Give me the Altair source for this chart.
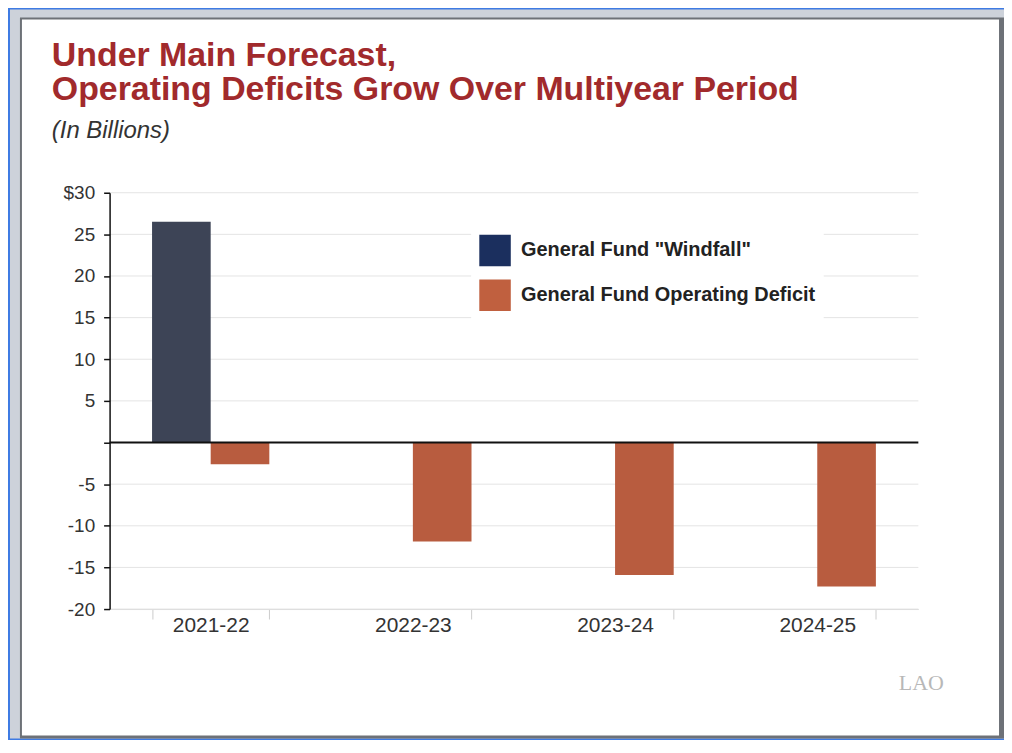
import altair as alt
import pandas as pd

years = ["2021-22", "2022-23", "2023-24", "2024-25"]
windfall = [26.5, None, None, None]
deficit = [-2.6, -11.9, -15.9, -17.3]
series = ['General Fund "Windfall"', "General Fund Operating Deficit"]
bar_colors = ["#3d4456", "#b85c3f"]
legend_colors = ["#1b2f5e", "#c0603f"]
y_ticks = [-20, -15, -10, -5, 0, 5, 10, 15, 20, 25, 30]
grid_vals = [v for v in y_ticks if v != 0]

rows = []
for i, yr in enumerate(years):
    if windfall[i] is not None:
        rows.append({"year": yr, "series": series[0], "value": windfall[i]})
    if deficit[i] is not None:
        rows.append({"year": yr, "series": series[1], "value": deficit[i]})
df = pd.DataFrame(rows)
grid_df = pd.DataFrame({"v": grid_vals})
zero_df = pd.DataFrame({"v": [0]})

W, H = 812, 418
FONT = "Liberation Sans"

yscale = alt.Scale(domain=[-20, 30], nice=False, zero=False)
yaxis = alt.Axis(
    title=None, values=y_ticks, grid=False, zindex=1,
    domainColor="#111111", domainWidth=1.5, tickColor="#111111", tickWidth=1.5,
    tickSize=6, labelPadding=9, labelFont=FONT, labelFontSize=19, labelColor="#333333",
    labelExpr="datum.value == 30 ? '$30' : (datum.value == 0 ? '' : toString(datum.value))",
)
xscale = alt.Scale(domain=years, paddingInner=0.42, paddingOuter=0.21)
xaxis = alt.Axis(
    title=None, labelAngle=0, zindex=1, domain=True, domainColor="#dddddd",
    tickColor="#cccccc", tickSize=10, tickBand="extent",
    labelFont=FONT, labelFontSize=21, labelColor="#333333", labelPadding=-4,
)

one = alt.Data(values=[{}])

bg_gray = alt.Chart(one).mark_rect(color="#cdd2da").encode(
    x=alt.value(-100), x2=alt.value(900), y=alt.value(-184), y2=alt.value(548))
bg_dark = alt.Chart(one).mark_rect(color="#6d7177").encode(
    x=alt.value(-90), x2=alt.value(898), y=alt.value(-176), y2=alt.value(548))
bg_white = alt.Chart(one).mark_rect(color="#ffffff").encode(
    x=alt.value(-88), x2=alt.value(893), y=alt.value(-174), y2=alt.value(545))

grid = alt.Chart(grid_df).mark_rule(color="#e4e4e4", strokeWidth=1).encode(
    y=alt.Y("v:Q", scale=yscale, axis=yaxis))

bars = alt.Chart(df).mark_bar().encode(
    x=alt.X("year:N", sort=years, scale=xscale, axis=xaxis),
    xOffset=alt.XOffset("series:N", scale=alt.Scale(domain=series)),
    y=alt.Y("value:Q", scale=yscale, axis=yaxis),
    color=alt.Color("series:N", scale=alt.Scale(domain=series, range=bar_colors), legend=None),
)

zero = alt.Chart(zero_df).mark_rule(color="#111111", strokeWidth=2).encode(
    y=alt.Y("v:Q", scale=yscale, axis=yaxis))

legend_layer = alt.Chart(df).mark_square(opacity=0, size=10).encode(
    color=alt.Color(
        "series:N",
        scale=alt.Scale(domain=series, range=legend_colors),
        legend=alt.Legend(
            title=None, orient="none", legendX=363, legendY=34, fillColor="white",
            padding=8, symbolType="square", symbolSize=1000, symbolStrokeWidth=0,
            symbolOpacity=1, labelFont=FONT, labelFontSize=20, labelFontWeight="bold",
            labelColor="#222222", labelOffset=10, rowPadding=13, labelLimit=0,
        ),
    )
)

logo = alt.Chart(one).mark_text(
    text="LAO", font="Liberation Serif", fontSize=22, color="#b8b8b8", align="center", baseline="middle"
).encode(x=alt.value(815), y=alt.value(492))

chart = alt.layer(bg_gray, bg_dark, bg_white, grid, bars, zero, legend_layer, logo).resolve_scale(
    color="independent"
).properties(
    width=W, height=H,
    autosize=alt.AutoSizeParams(type="none"),
    padding={"left": 102, "top": 184, "right": 86, "bottom": 130},
    background="#3e7be3",
    title=alt.TitleParams(
        text=["Under Main Forecast,", "Operating Deficits Grow Over Multiyear Period"],
        subtitle="(In Billions)",
        anchor="start", frame="group", dx=-58, dy=174, offset=40,
        font=FONT, fontSize=34, fontWeight="bold", color="#a12a2c", lineHeight=34,
        subtitleFont=FONT, subtitleFontSize=24, subtitleFontStyle="italic",
        subtitleColor="#333333", subtitlePadding=12,
    ),
).configure_view(stroke=None)

chart.save("out.html", embed_options={"renderer": "svg", "actions": False})
